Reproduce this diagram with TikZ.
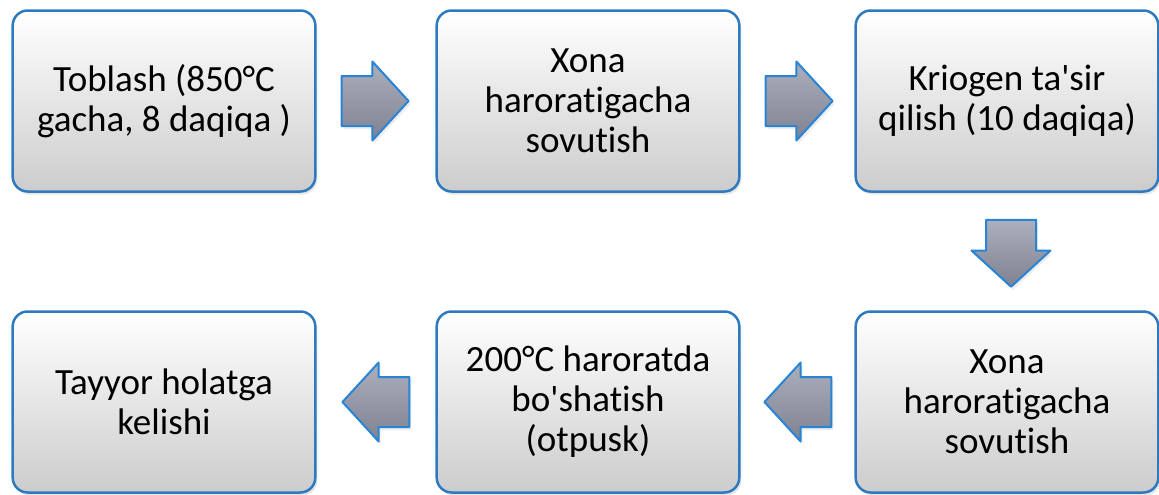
\documentclass[tikz,border=0pt]{standalone}
\usepackage{fontspec}
\setmainfont{Carlito}[Ligatures={NoCommon}]
\usetikzlibrary{shapes.arrows,shadows,calc}
\definecolor{boxblue}{RGB}{46,122,192}
\definecolor{arrowblue}{RGB}{40,132,214}
\definecolor{arrowtop}{RGB}{172,175,188}
\definecolor{arrowbot}{RGB}{126,130,145}
\tikzset{
  stepbox/.style={rectangle,rounded corners=15bp,draw=boxblue,line width=2.5bp,
    top color=white,bottom color=black!20,
    minimum width=302bp,minimum height=181bp,text width=296bp,align=flush center,
    font=\fontsize{37bp}{40bp}\selectfont,
    drop shadow={opacity=0.2,shadow xshift=2bp,shadow yshift=-3bp}},
  blockarrow/.style={single arrow,draw=arrowblue,line width=2bp,
    top color=arrowtop,bottom color=arrowbot,anchor=tail,
    minimum height=67bp,inner xsep=0bp,inner ysep=24bp,text height=0bp,text depth=0bp,
    single arrow head extend=14.5bp,single arrow tip angle=95,
    drop shadow={opacity=0.15,shadow xshift=2bp,shadow yshift=-3bp}},
}
\begin{document}
\begin{tikzpicture}[line join=round]
    \useasboundingbox (0bp,0bp) rectangle (1159bp,-495bp);
    %% top row
    \node (toblash) at (164bp,-101bp) [stepbox] {Toblash (850°C\\gacha, 8 daqiqa )};
    \node (sovutish1) at (588bp,-101bp) [stepbox] {Xona\\haroratigacha\\sovutish};
    \node (kriogen) at (1007bp,-101bp) [stepbox] {Kriogen ta\textquotesingle sir\\qilish (10 daqiqa)};
    %% bottom row
    \node (sovutish2) at (1007bp,-402bp) [stepbox] {Xona\\haroratigacha\\sovutish};
    \node (otpusk) at (588bp,-402bp) [stepbox] {200°C haroratda\\bo\textquotesingle shatish\\(otpusk)};
    \node (tayyor) at (164bp,-402bp) [stepbox] {Tayyor holatga\\kelishi};
    %% block arrows
    \node (a1) at ($(toblash.east)+(24bp,0)$) [blockarrow] {};
    \node (a2) at ($(sovutish1.east)+(24bp,0)$) [blockarrow] {};
    \node (a3) at ($(kriogen.south)+(4bp,-26bp)$) [blockarrow,rotate=-90] {};
    \node (a4) at ($(sovutish2.west)+(-22bp,0)$) [blockarrow,shape border rotate=180] {};
    \node (a5) at ($(otpusk.west)+(-25bp,0)$) [blockarrow,shape border rotate=180] {};
    %
\end{tikzpicture}
\end{document}
